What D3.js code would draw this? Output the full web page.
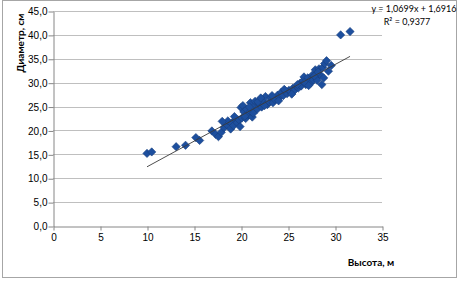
<!DOCTYPE html>
<html>
<head>
<meta charset="utf-8">
<script src="https://cdn.jsdelivr.net/npm/d3@7"></script>
<style>
  body { margin: 0; background: #fff; }
  svg { display: block; font-family: Lato, "Open Sans", sans-serif; }
</style>
</head>
<body>
<svg id="chart"></svg>
<script>
// высота деревьев, м
let heights = [10.0, 10.5, 13.1, 14.1, 15.2, 15.6, 16.9, 17.3, 17.6, 17.9,
    18.2, 18.5, 18.6, 18.9, 19.0, 19.2, 19.4, 19.6, 19.8, 19.9,
    20.0, 20.1, 20.2, 20.3, 20.5, 20.6, 20.8, 21.0, 21.0, 21.2,
    21.4, 21.5, 21.7, 21.9, 22.0, 22.2, 22.4, 22.6, 22.8, 23.0,
    23.2, 23.4, 23.6, 23.9, 24.1, 24.3, 24.5, 24.7, 24.9, 25.1,
    25.3, 25.5, 25.7, 25.9, 26.1, 26.3, 26.4, 26.6, 26.7, 26.9,
    27.0, 27.1, 27.3, 27.4, 27.6, 27.7, 27.9, 28.0, 28.1, 28.3,
    28.4, 28.6, 28.7, 28.9, 29.1, 29.3, 29.6, 30.6, 31.6,
    19.3, 20.4, 20.9, 21.3, 21.8, 22.5, 23.3, 24.0, 24.6, 25.4,
    26.0, 26.8, 27.2, 27.8, 28.2, 28.8, 18.0, 22.1];
// диаметр, см
let diameters = [15.2, 15.5, 16.6, 16.9, 18.5, 17.9, 19.9, 19.2, 18.7, 19.6,
    20.6, 21.2, 22.0, 20.3, 21.5, 21.0, 22.3, 21.6, 22.2, 20.8,
    24.8, 22.6, 25.2, 23.9, 22.5, 24.4, 23.3, 25.8, 24.0, 22.8,
    25.0, 26.1, 24.4, 25.6, 26.3, 24.9, 25.9, 27.1, 25.4, 26.0,
    26.9, 25.8, 26.5, 27.4, 26.9, 28.0, 27.3, 28.3, 27.7, 28.4,
    28.1, 28.8, 28.4, 29.2, 28.9, 29.9, 29.3, 30.4, 31.2, 29.6,
    30.1, 31.0, 30.4, 29.9, 31.6, 30.6, 32.7, 31.1, 30.5, 32.9,
    31.7, 29.6, 33.2, 34.0, 34.6, 32.4, 33.6, 40.0, 40.7,
    22.9, 23.0, 24.9, 23.6, 26.0, 25.2, 27.3, 26.2, 28.6, 27.6,
    29.6, 30.0, 29.4, 31.4, 32.2, 31.0, 21.9, 26.8];

let xTicks = [0, 5, 10, 15, 20, 25, 30, 35];
let yTicks = [0, 5, 10, 15, 20, 25, 30, 35, 40, 45];
// линия тренда y = a*x + b
let trendCoef = [1.0699, 1.6916];
let trendText = ["y = 1,0699x + 1,6916", "R² = 0,9377"];

let width = 461, height = 282;
let plotLeft = 53, plotRight = 382, plotTop = 11, plotBottom = 226;

let svg = d3.select("#chart").attr("width", width).attr("height", height);

// рамка диаграммы
svg.append("rect")
    .attr("x", 2.5).attr("y", 0.5)
    .attr("width", 454).attr("height", 277)
    .attr("fill", "none").attr("stroke", "#a6a6a6");

let scaleX = d3.scaleLinear().domain([0, 35]).range([plotLeft, plotRight]);
let scaleY = d3.scaleLinear().domain([0, 45]).range([plotBottom, plotTop]);

let ru = d3.formatLocale({decimal: ",", thousands: " ", grouping: [3], currency: ["", ""]});

// сетка
svg.append("g")
    .selectAll("line")
    .data(yTicks.slice(1))
    .enter()
    .append("line")
    .attr("x1", plotLeft).attr("x2", plotRight)
    .attr("y1", d => Math.round(scaleY(d)) + 0.5)
    .attr("y2", d => Math.round(scaleY(d)) + 0.5)
    .attr("stroke", "#bfbfbf");

let axisY = d3.axisLeft(scaleY).tickValues(yTicks).tickFormat(ru.format(".1f")).tickSize(5).tickSizeOuter(0);
let axisX = d3.axisBottom(scaleX).tickValues(xTicks).tickFormat(d3.format("d")).tickSize(4).tickSizeOuter(0);

let gy = svg.append("g").attr("transform", `translate(${plotLeft + 0.5}, 0.5)`).call(axisY);
let gx = svg.append("g").attr("transform", `translate(0.5, ${plotBottom + 0.5})`).call(axisX);

[gy, gx].forEach(g => {
    g.selectAll("path, line").attr("stroke", "#868686");
    g.selectAll("text").attr("fill", "#000").style("font-size", "10px");
});
gy.selectAll("text").attr("x", -6);
gx.selectAll("text").attr("y", 7);

// точки
let points = heights.map((h, i) => ({h: h, d: diameters[i]}));
svg.append("g")
    .selectAll("path")
    .data(points)
    .enter()
    .append("path")
    .attr("d", d3.symbol().type(d3.symbolSquare).size(34))
    .attr("transform", d => `translate(${scaleX(d.h)}, ${scaleY(d.d)}) rotate(45)`)
    .attr("fill", "#1d4f9e")
    .attr("stroke", "#17407f")
    .attr("stroke-width", 0.6);

// линия тренда
let xMin = d3.min(heights), xMax = d3.max(heights);
svg.append("line")
    .attr("x1", scaleX(xMin)).attr("y1", scaleY(trendCoef[0] * xMin + trendCoef[1]))
    .attr("x2", scaleX(xMax)).attr("y2", scaleY(trendCoef[0] * xMax + trendCoef[1]))
    .attr("stroke", "#3a3a3a").attr("stroke-width", 0.9);

// подписи
svg.append("text")
    .attr("x", 414).attr("y", 12)
    .attr("text-anchor", "middle")
    .style("font-size", "9px")
    .text(trendText[0]);
svg.append("text")
    .attr("x", 407).attr("y", 25)
    .attr("text-anchor", "middle")
    .style("font-size", "9px")
    .text(trendText[1]);

svg.append("text")
    .attr("transform", "translate(24, 43) rotate(-90)")
    .attr("text-anchor", "middle")
    .style("font-size", "10px").style("font-weight", "bold")
    .text("Диаметр, см");

svg.append("text")
    .attr("x", 371).attr("y", 266)
    .attr("text-anchor", "middle")
    .style("font-size", "10px").style("font-weight", "bold")
    .text("Высота, м");
</script>
</body>
</html>
